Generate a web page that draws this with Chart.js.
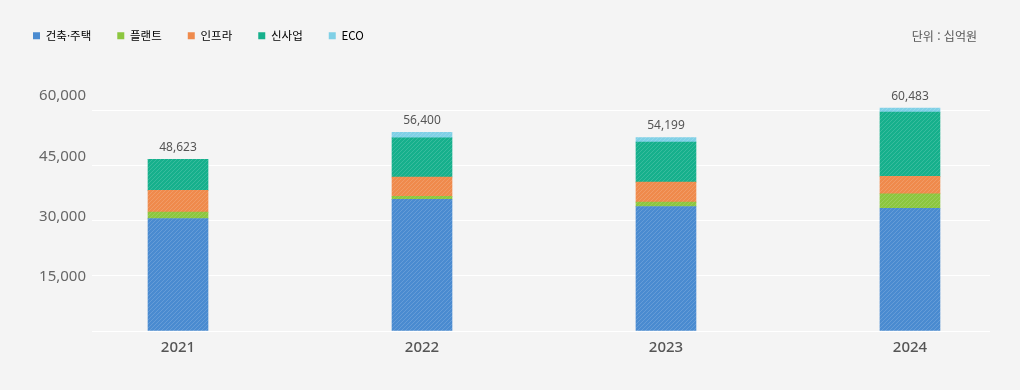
<!DOCTYPE html>
<html lang="ko">
<head>
<meta charset="utf-8">
<script src="https://cdn.jsdelivr.net/npm/chart.js@4/dist/chart.umd.min.js"></script>
<style>
  html, body { margin: 0; padding: 0; background: #f4f4f4; }
  .wrap { position: relative; width: 1020px; height: 390px; }
  .unit { position: absolute; right: 43px; top: 27px; font: 12px "Noto Sans CJK KR", "Noto Sans", sans-serif; color: #555; }
</style>
</head>
<body>
<div class="wrap">
  <canvas id="chart" width="1020" height="390"></canvas>
  <div class="unit">단위 : 십억원</div>
</div>
<script>
// values in 십억원
const years = [2021, 2022, 2023, 2024];
const housing = [30550, 35730, 33820, 33350];
const plant = [1720, 820, 1180, 3930];
const infra = [5910, 5270, 5450, 4730];
const newBiz = [8450, 10640, 10830, 17450];
const eco = [0, 1470, 1280, 1090];
const totals = [48623, 56400, 54199, 60483];
const seriesNames = ['건축·주택', '플랜트', '인프라', '신사업', 'ECO'];
const seriesColors = ['#4a8bd0', '#8cc63f', '#ef8a4c', '#16b08c', '#7fd0e6'];
const gridTicks = [0, 15000, 30000, 45000, 60000];
const labelTicks = [15000, 30000, 45000, 60000];

// hatched fill like the reference bars
const makeHatch = (color) => {
  const c = document.createElement('canvas');
  c.width = 4; c.height = 4;
  const g = c.getContext('2d');
  g.fillStyle = color;
  g.fillRect(0, 0, 4, 4);
  g.strokeStyle = 'rgba(255,255,255,0.15)';
  g.lineWidth = 1;
  g.beginPath();
  g.moveTo(0, 4); g.lineTo(4, 0);
  g.moveTo(-1, 1); g.lineTo(1, -1);
  g.moveTo(3, 5); g.lineTo(5, 3);
  g.stroke();
  return g.createPattern(c, 'repeat');
};

const seriesValues = [housing, plant, infra, newBiz, eco];
const datasets = seriesValues.map((vals, i) => ({
  label: seriesNames[i],
  data: years.map((y, j) => ({ x: y, y: vals[j] })),
  backgroundColor: makeHatch(seriesColors[i]),
  borderWidth: 0,
  barThickness: 60
}));

// totals above each stack
const totalLabels = {
  id: 'totalLabels',
  afterDatasetsDraw(chart) {
    const { ctx, scales } = chart;
    ctx.save();
    ctx.font = '12px "Noto Sans", sans-serif';
    ctx.fillStyle = '#555';
    ctx.textAlign = 'center';
    ctx.textBaseline = 'middle';
    years.forEach((yr, j) => {
      const stackTop = seriesValues.reduce((s, v) => s + v[j], 0);
      const px = scales.x.getPixelForValue(yr);
      const py = scales.y.getPixelForValue(stackTop);
      ctx.fillText(totals[j].toLocaleString('en-US'), px, py - 11.5);
    });
    ctx.restore();
  }
};

// leave room between legend and plot
const legendSpacer = {
  id: 'legendSpacer',
  beforeLayout(chart) {
    const lg = chart.legend;
    if (lg && !lg._spaced) {
      const fit = lg.fit;
      lg.fit = function () { fit.call(this); this.height = 86; };
      lg._spaced = true;
    }
  }
};

new Chart(document.getElementById('chart'), {
  type: 'bar',
  data: { datasets },
  options: {
    responsive: false,
    animation: false,
    layout: { padding: { left: 7, right: 30, top: 4, bottom: 33 } },
    plugins: {
      legend: {
        position: 'top',
        align: 'start',
        labels: {
          boxWidth: 7,
          boxHeight: 7,
          padding: 26,
          color: '#555',
          font: { size: 11.5, family: '"Noto Sans CJK KR", "Noto Sans", sans-serif' },
          generateLabels: () => seriesNames.map((n, i) => ({
            text: n, fillStyle: seriesColors[i], strokeStyle: seriesColors[i],
            lineWidth: 0, datasetIndex: i, hidden: false
          }))
        }
      },
      tooltip: { enabled: false }
    },
    scales: {
      x: {
        type: 'linear',
        stacked: true,
        offset: false,
        min: 2020.6475,
        max: 2024.328,
        afterBuildTicks: (axis) => { axis.ticks = years.map(v => ({ value: v })); },
        grid: { display: false },
        border: { display: false },
        ticks: {
          padding: 0,
          color: '#555',
          font: { size: 15, weight: '500', family: '"Noto Sans", sans-serif' },
          callback: (v) => String(v)
        }
      },
      y: {
        stacked: true,
        min: 0,
        max: 65454,
        afterBuildTicks: (axis) => { axis.ticks = gridTicks.map(v => ({ value: v })); },
        afterFit: (axis) => { axis.width = 0; },
        grid: { color: '#ffffff', lineWidth: 1, drawTicks: false },
        border: { display: false },
        ticks: { display: false }
      },
      yl: {
        position: 'left',
        min: 1500,
        max: 61500,
        afterBuildTicks: (axis) => { axis.ticks = labelTicks.map(v => ({ value: v })); },
        afterFit: (axis) => { axis.width = 85; },
        grid: { display: false, drawTicks: false },
        border: { display: false },
        ticks: {
          padding: 6,
          color: '#666',
          font: { size: 15, family: '"Noto Sans", sans-serif' },
          callback: (v) => v.toLocaleString('en-US')
        }
      }
    }
  },
  plugins: [totalLabels, legendSpacer]
});
</script>
</body>
</html>
